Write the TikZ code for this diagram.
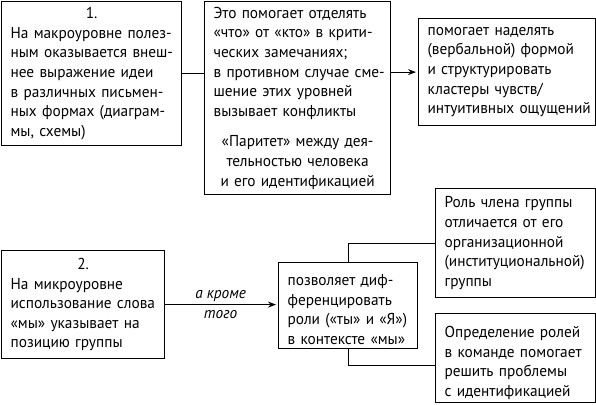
\documentclass[tikz,border=0pt]{standalone}
\usepackage{fontspec}
\setmainfont{PT Sans}[FakeStretch=0.97]
\usetikzlibrary{calc}
\usetikzlibrary{arrows.meta}
\tikzset{
  box/.style= {draw, line width=1.2pt, anchor=north west, align=left,
    inner xsep=0pt, inner ysep=0pt, font=\fontsize{15.8}{19.6}\selectfont,
    execute at begin node={\leftskip=9pt\relax}},
  link/.style= {line width=1.2pt},
  tag/.style= {font=\fontsize{15.8}{19.6}\selectfont\itshape, align=center},
}

\begin{document}
\begin{tikzpicture}[x=1pt, y=-1pt, >={Stealth[length=8pt, width=6pt]}]
  \useasboundingbox (0,0) rectangle (596,404);
  \node [box, text width=180pt, minimum height=144pt] (a) at (1,1)
    {{\centering 1.\par}
     На макроуровне полез-\\
     ным оказывается внеш-\\
     нее выражение идеи\\
     в различных письмен-\\
     ных формах (диаграм-\\
     мы, схемы)} ;
  \node [box, text width=186pt, minimum height=193pt] (b) at (204,1)
    {Это помогает отделять\\
     «что» от «кто» в крити-\\
     ческих замечаниях;\\
     в противном случае сме-\\
     шение этих уровней\\
     вызывает конфликты\par
     \vspace{11pt}
     {\centering «Паритет» между дея-\\
     тельностью человека\\
     и его идентификацией\par}} ;
  \node [box, text width=177pt, minimum height=107pt] (c) at (418,18)
    {помогает наделять\\
     (вербальной) формой\\
     и структурировать\\
     кластеры чувств/\\
     интуитивных~ощущений} ;
  \node [box, text width=163pt, minimum height=108pt] (d) at (1,250)
    {{\centering 2.\par}
     На микроуровне\\
     использование слова\\
     «мы» указывает на\\
     позицию группы} ;
  \node [box, text width=139pt, minimum height=86pt] (e) at (278,262)
    {\rule{0pt}{19pt}позволяет диф-\\
     ференцировать\\
     роли («ты» и «Я»)\\
     в контексте «мы»} ;
  \node [box, text width=160pt, minimum height=109pt] (f) at (435,188)
    {Роль члена группы\\
     отличается от его\\
     организационной\\
     (институциональной)\\
     группы} ;
  \node [box, text width=160pt, minimum height=89pt] (g) at (435,313)
    {\rule{0pt}{21pt}Определение ролей\\
     в команде помогает\\
     решить проблемы\\
     с идентификацией} ;

  % connectors
  \draw [link] (a.east) -- (a.east -| b.west) ;
  \draw [link, ->] (b.east |- c.west) -- ([xshift=-2pt]c.west) ;
  \draw [link, ->] (d.east) -- ([xshift=-2pt]d.east -| e.west)
    node [tag, midway] (t) {а кроме\\того} ;
  \draw [link] (e.north) |- (f.west) ;
  \draw [link] (e.south) |- ([yshift=-7pt]g.west) ;
\end{tikzpicture}
\end{document}
